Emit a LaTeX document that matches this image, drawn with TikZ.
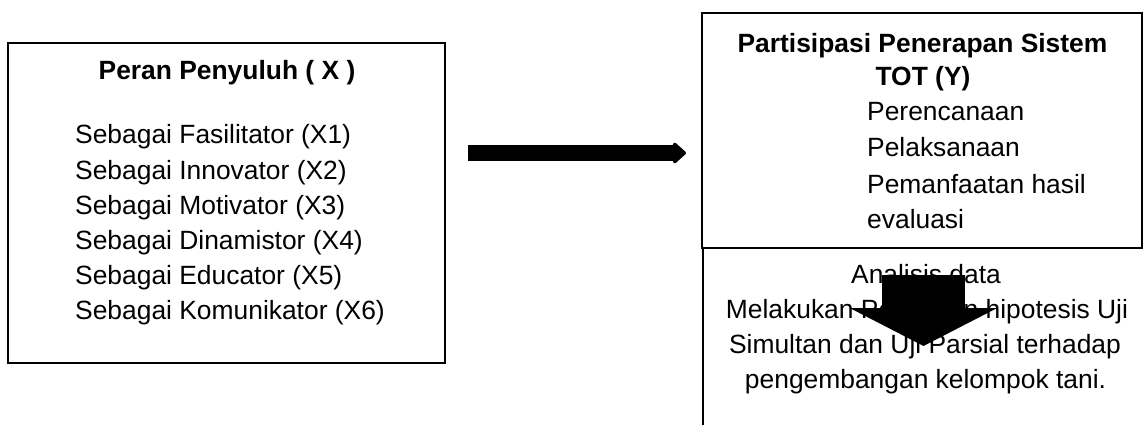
\documentclass[tikz,border=0pt]{standalone}
\usepackage{fontspec}
\setmainfont{Liberation Sans}
\usetikzlibrary{arrows.meta}
\tikzset{
  boxline/.style={draw=black, line width=2pt, inner sep=0pt},
  txt/.style={inner sep=0pt, font=\fontsize{26.4}{35}\selectfont},
  ttl/.style={inner sep=0pt, font=\fontsize{26.4}{35}\selectfont\bfseries},
}
\begin{document}
\begin{tikzpicture}[x=1pt,y=-1pt]
\useasboundingbox (0,0) rectangle (1143,425);
% left box
\node[boxline, minimum width=437pt, minimum height=320pt] (lbox) at (226.5,203) {};
\node[ttl, anchor=base] (ltitle) at (227,80) {Peran Penyuluh ( X )};
\node[txt, anchor=base west] (x1) at (75,144) {Sebagai Fasilitator (X1)};
\node[txt, anchor=base west] (x2) at (75,179) {Sebagai Innovator (X2)};
\node[txt, anchor=base west] (x3) at (75,214) {Sebagai Motivator (X3)};
\node[txt, anchor=base west] (x4) at (75,249) {Sebagai Dinamistor (X4)};
\node[txt, anchor=base west] (x5) at (75,284) {Sebagai Educator (X5)};
\node[txt, anchor=base west] (x6) at (75,319) {Sebagai Komunikator (X6)};
% right top box
\node[boxline, minimum width=439.5pt, minimum height=234.5pt] (rbox) at (921.75,130.25) {};
\node[ttl, anchor=base] (rt1) at (922.5,53) {Partisipasi Penerapan Sistem};
\node[ttl, anchor=base] (rt2) at (923,86) {TOT (Y)};
\node[txt, anchor=base west] (y1) at (867,121) {Perencanaan};
\node[txt, anchor=base west] (y2) at (867,157) {Pelaksanaan};
\node[txt, anchor=base west] (y3) at (867,193) {Pemanfaatan hasil};
\node[txt, anchor=base west] (y4) at (867,228) {evaluasi};
% bottom (open) box
\coordinate (bTR) at (1141.5,248);
\coordinate (bTL) at (702.5,248);
\coordinate (bBL) at (702.5,430);
\draw[line width=2pt] (bTR) -- (bTL) -- (bBL);
\node[txt, anchor=base] (b1) at (926,283) {Analisis data};
\node[txt, anchor=base] (b2) at (927,318) {Melakukan Pengujian hipotesis Uji};
\node[txt, anchor=base] (b3) at (925,353) {Simultan dan Uji Parsial terhadap};
\node[txt, anchor=base] (b4) at (925.5,388) {pengembangan kelompok tani.};
% arrows
\coordinate (a1) at (468,153);
\coordinate (a2) at (686,153);
\draw[line width=15pt, -{Triangle[length=14pt,width=24pt,round]}] (a1) -- (a2);
\coordinate (d1) at (923.5,275);
\coordinate (d2) at (923.5,346);
\draw[line width=83pt, -{Triangle[length=38pt,width=146pt]}] (d1) -- (d2);
\end{tikzpicture}
\end{document}
